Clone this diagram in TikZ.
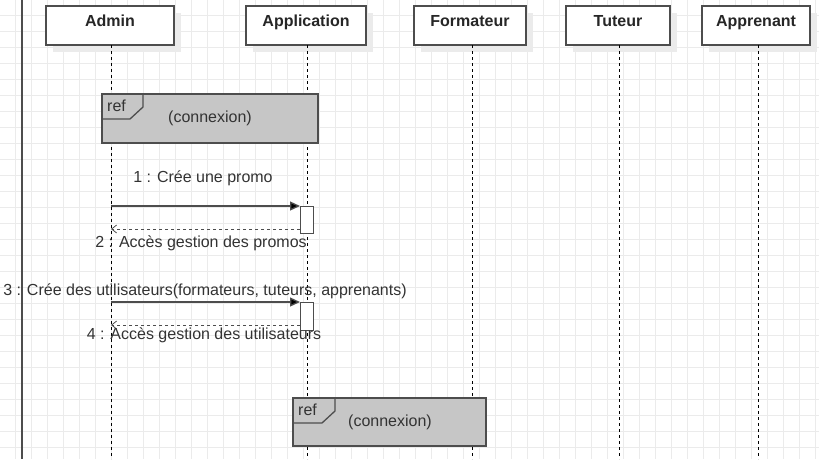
\documentclass[tikz,border=0pt]{standalone}
\usepackage{fontspec}
\setmainfont{Liberation Sans}
\usetikzlibrary{arrows.meta}
\definecolor{gridc}{HTML}{EBEBEB}
\definecolor{refgray}{HTML}{C6C6C6}
\definecolor{edgec}{HTML}{4D4D4D}
\definecolor{shadowc}{HTML}{EBEBEB}
\tikzset{
  hdr/.style={draw=edgec, line width=1.3pt, fill=white, minimum width=#1, minimum height=39pt, inner sep=0pt},
  hdrtext/.style={font=\fontsize{16}{18}\selectfont\bfseries, text=black!85, inner sep=0pt, anchor=base},
  lifeline/.style={black, line width=0.9pt, dash pattern=on 3pt off 3pt},
  msg/.style={draw=edgec, line width=1.3pt, -{Triangle[length=10pt,width=9pt,fill=black]}},
  ret/.style={edgec, line width=1pt, dash pattern=on 3pt off 3pt, -{Straight Barb[length=5pt,width=8pt,line width=0.8pt]}},
  lbl/.style={font=\fontsize{16}{18}\selectfont, text=black!80, inner sep=0pt},
  act/.style={draw=edgec, line width=1.3pt, fill=white},
  refbox/.style={draw=edgec, line width=1.3pt, fill=refgray},
}
\begin{document}
\begin{tikzpicture}[x=1pt,y=-1pt]
\useasboundingbox (0,0) rectangle (819,459);
\fill[white] (0,0) rectangle (819,459);
% grid
\begin{scope}
\clip (0,0) rectangle (819,459);
\foreach \i in {0,...,51} {\draw[gridc, line width=0.8pt] ({15+16*\i},0) -- ({15+16*\i},459);}
\foreach \i in {0,...,28} {\draw[gridc, line width=0.8pt] (0,{15+16*\i}) -- (819,{15+16*\i});}
\end{scope}
% left border line
\draw[edgec, line width=1.6pt] (22,0) -- (22,459);
% shadows
\foreach \a/\b in {46/174,246/366,414/526,566/670,702/810} {\fill[shadowc] (\a+7,13) rectangle (\b+7,52);}
% headers
\node[hdr=128pt] (admin) at (110,25.5) {};
\node[hdr=120pt] (app) at (306,25.5) {};
\node[hdr=112pt] (form) at (470,25.5) {};
\node[hdr=104pt] (tut) at (618,25.5) {};
\node[hdr=108pt] (appr) at (756,25.5) {};
\node[hdrtext] (tadmin) at (110,26) {Admin};
\node[hdrtext] (tapp) at (306,26) {Application};
\node[hdrtext] (tform) at (470,26) {Formateur};
\node[hdrtext] (ttut) at (618,26) {Tuteur};
\node[hdrtext] (tappr) at (756,26) {Apprenant};
% lifeline ends
\coordinate (adminEnd) at (111,459);
\coordinate (appEnd) at (307,459);
\coordinate (formEnd) at (472,459);
\coordinate (tutEnd) at (619,459);
\coordinate (apprEnd) at (758,459);
\draw[lifeline] (111,45) -- (adminEnd);
\draw[lifeline] (307,45) -- (appEnd);
\draw[lifeline] (472,45) -- (formEnd);
\draw[lifeline] (619,45) -- (tutEnd);
\draw[lifeline] (758,45) -- (apprEnd);
% ref 1
\draw[refbox] (102,94) rectangle (318,143);
\draw[edgec, line width=1.3pt] (102,119) -- (130,119) -- (143,107) -- (143,94);
\node[lbl, anchor=west] (ref1) at (107,106) {ref};
\node[lbl] (con1) at (210,118) {(connexion)};
% ref 2
\draw[refbox] (293,398) rectangle (486,446);
\draw[edgec, line width=1.3pt] (293,423) -- (322,423) -- (335,411) -- (335,398);
\node[lbl, anchor=west] (ref2) at (298,410) {ref};
\node[lbl] (con2) at (390,422) {(connexion)};
% activations
\node[act, minimum width=13pt, minimum height=27pt, inner sep=0pt, anchor=north west] (act1) at (300,206) {};
\node[act, minimum width=13pt, minimum height=28pt, inner sep=0pt, anchor=north west] (act2) at (300,302) {};
% message points
\coordinate (s1) at (111,206);
\coordinate (r2) at (111,229);
\coordinate (s3) at (111,302);
\coordinate (r4) at (111,325);
\draw[msg] (s1) -- (act1.north west);
\draw[ret] (act1.west |- r2) -- (r2);
\draw[msg] (s3) -- (act2.north west);
\draw[ret] (act2.west |- r4) -- (r4);
\node[lbl] (l1) at (203,178) {1 : Crée une promo};
\node[lbl] (l2) at (201,243) {2 : Accès gestion des promos};
\node[lbl] (l3) at (205,291) {3 : Crée des utilisateurs(formateurs, tuteurs, apprenants)};
\node[lbl] (l4) at (204,335) {4 : Accès gestion des utilisateurs};
\end{tikzpicture}
\end{document}
